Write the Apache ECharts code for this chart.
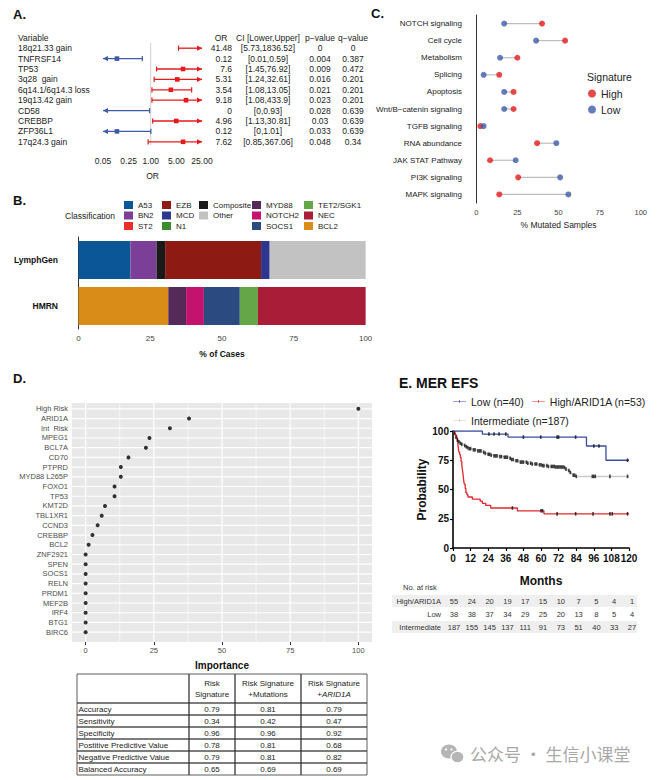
<!DOCTYPE html>
<html><head><meta charset="utf-8">
<script src="https://cdn.jsdelivr.net/npm/echarts@6/dist/echarts.min.js"></script>
<style>html,body{margin:0;padding:0;background:#fff;}#c{width:661px;height:780px;}</style>
</head><body><div id="c"></div>
<script>
const FONT = '"Liberation Sans", Arial, Helvetica, sans-serif';

// ---------- Panel A : forest plot ----------
const fVars = ['18q21.33 gain','TNFRSF14','TP53','3q28  gain','6q14.1/6q14.3 loss','19q13.42 gain','CD58','CREBBP','ZFP36L1','17q24.3 gain'];
const fOR  = [41.48,0.12,7.6,5.31,3.54,9.18,0,4.96,0.12,7.62];
const fLow = [5.73,0.01,1.45,1.24,1.08,1.08,0,1.13,0,0.85];
const fUp  = [1836.52,0.59,76.92,32.61,13.05,433.9,0.93,30.81,1.01,367.06];
const fP   = ['0','0.004','0.009','0.016','0.021','0.023','0.028','0.03','0.033','0.048'];
const fQ   = ['0','0.387','0.472','0.201','0.201','0.201','0.639','0.639','0.639','0.34'];
const fTicks = [0.05,0.25,1,5,25];

// ---------- Panel B : classification bars ----------
const bCats = ['HMRN','LymphGen'];
const lgClasses = ['A53','BN2','Composite','EZB','MCD','Other'];
const lgValues  = [18.1,9.1,3.0,33.4,3.0,33.4];
const hmClasses = ['BCL2','MYD88','NOTCH2','SOCS1','TET2/SGK1','NEC'];
const hmValues  = [31.3,6.2,6.2,12.5,6.3,37.5];
const emptyClasses = ['ST2','N1'];
const bColors = {A53:'#0B5697',BN2:'#7B3F97',ST2:'#E8302A',EZB:'#8D1B14',MCD:'#2E3690',N1:'#3C8A2E',
  Composite:'#1A1A1A',Other:'#C2C2C2',MYD88:'#552A58',NOTCH2:'#C3136F',SOCS1:'#2B4B80',
  'TET2/SGK1':'#64A648',NEC:'#A91D39',BCL2:'#D98C18'};
const bLegendCols = [['A53','BN2','ST2'],['EZB','MCD','N1'],['Composite','Other'],['MYD88','NOTCH2','SOCS1'],['TET2/SGK1','NEC','BCL2']];
const pctTicks = [0,25,50,75,100];

// ---------- Panel C : mutated pathways ----------
const cCats = ['NOTCH signaling','Cell cycle','Metabolism','Splicing','Apoptosis','Wnt/B\u2212catenin signaling','TGFB signaling','RNA abundance','JAK STAT Pathway','PI3K signaling','MAPK signaling'];
const cHigh = [40,54,25,14,22.7,22.7,2.5,37,8.4,25.5,14];
const cLow  = [17,36.4,14.5,4.5,17,17,4.5,48.7,24,51,56];

// ---------- Panel D : importance ----------
const dCats = ['High Risk','ARID1A','Int  Risk','MPEG1','BCL7A','CD70','PTPRD','MYD88 L265P','FOXO1','TP53','KMT2D','TBL1XR1','CCND3','CREBBP','BCL2','ZNF2921','SPEN','SOCS1','RELN','PRDM1','MEF2B','IRF4','BTG1','BIRC6'];
const dImp  = [100,37.9,30.9,23.4,22.1,15.7,12.9,12.9,10.6,10.6,7.1,5.9,4.4,2.5,1.1,0,0,0,0,0,0,0,0,0];
const dMinor = [12.5,37.5,62.5,87.5];

// ---------- Table ----------
const tHead = ['', 'Risk\nSignature', 'Risk Signature\n+Mutations', null];
const tRows = ['Accuracy','Sensitivity','Specificity','Postitive Predictive Value','Negative Predictive Value','Balanced Accuracy'];
const tRisk = [0.79,0.34,0.96,0.78,0.79,0.65];
const tMut  = [0.81,0.42,0.96,0.81,0.81,0.69];
const tArid = [0.79,0.47,0.92,0.68,0.82,0.69];

// ---------- Panel E : KM ----------
const kmLow = [[0,100],[20,97.4],[37.5,94.8],[91,87.2],[104.3,75.0],[120,75.0]];
const kmHigh = [[0,100],[0.7,98.2],[1.5,96.4],[2.5,94.5],[3,92.7],[3.3,89.1],[3.6,85.5],[4,82],[4.5,80],[5,77.5],[5.5,74],[6,70.9],[6.4,67.3],[6.8,63.6],[7.1,60],[7.4,56.4],[7.8,54.5],[8.3,50.9],[8.8,47.3],[9.5,45.5],[10.2,43.6],[13.2,41.8],[18.5,40],[20,38.2],[22.3,36.4],[25.7,34.2],[43.9,31.8],[62,29.2],[120,29.2]];
const kmInt = [[0,100],[0.5,99.4],[1,98.3],[1.5,96.8],[2,94.7],[2.5,93],[3,92.2],[4,90.8],[5,89.5],[6,88.6],[7.5,87.6],[8.5,86.6],[9.8,85.8],[11,84.9],[13.2,83.9],[16.6,83],[20,81.8],[22,80.9],[23.4,80.1],[26,79.3],[28,78.7],[31,78.1],[34.8,77.6],[38.2,76.7],[40,75.6],[41.6,74.6],[45,73.4],[50.7,72.5],[54,71.8],[57.5,71.1],[61,70.4],[64.3,69.7],[70,69.2],[75.7,68.8],[77,67.4],[78,66.2],[79.5,64.6],[80.7,63.2],[82,62.2],[83.6,61.2],[120,61.2]];
const censLow = [24.5,28,31.4,36,48,59.8,71,72,83.6,96,99.5,119];
const censHigh = [40.5,60,61,71,83.6,95.5,107,108.6,119];
const censInt = [1,2,3,4,5,6,8,9,10,11,12,14,15,17,18,19,21,22,24,25,26,28,29,30,32,33,35,36,37,39,40,41,43,44,46,47,48,50,51,53,54,56,57,59,60,61,62,64,65,67,68,69,70,71,72,73,74,75,76,77,79,80,82,83,84,95,96,97,107,119];
const rtGroups = ['High/ARID1A','Low','Intermediate'];
const rtHigh = [55,24,20,19,17,15,10,7,5,4,1];
const rtLow  = [38,38,37,34,29,25,20,13,8,5,4];
const rtInt  = [187,155,145,137,111,91,73,51,40,33,27];

// =================================================================
const RED = '#E41A1C', BLUE = '#3D5BA7';
const fMin = fTicks[0], fMax = fTicks[fTicks.length-1];

function survAt(curve, t){ let v = curve[0][1]; for (const p of curve) if (p[0] <= t) v = p[1]; return v; }

const G = [];
function txt(x,y,text,o){ G.push({type:'text', x:x, y:y, silent:true, z:10,
  style:Object.assign({text:text, fontFamily:FONT, fontSize:8.5, fill:'#222', align:'left', verticalAlign:'middle'}, o||{})}); }
function rect(x,y,w,h,o){ G.push({type:'rect', silent:true, z:5, shape:{x:x,y:y,width:w,height:h}, style:Object.assign({fill:'none'}, o||{})}); }

// panel labels
txt(13,14,'A.',{fontSize:13,fontWeight:'bold',fill:'#111'});
txt(13,200,'B.',{fontSize:13,fontWeight:'bold',fill:'#111'});
txt(371,13,'C.',{fontSize:13,fontWeight:'bold',fill:'#111'});
txt(13,378,'D.',{fontSize:13,fontWeight:'bold',fill:'#111'});
txt(399,383,'E. MER EFS',{fontSize:14,fontWeight:'bold',fill:'#111'});
// forest headers
txt(18,38,'Variable');
txt(221,38,'OR',{align:'center'});
txt(268,38,'CI [Lower,Upper]',{align:'center'});
txt(320,38,'p\u2212value',{align:'center'});
txt(353,38,'q\u2212value',{align:'center'});
// legend titles
txt(65,216,'Classification',{fontSize:8.5});
txt(587,77,'Signature',{fontSize:10.5});

// table D
const tx = [77,189,235,301,367];
const tTop = 674, tHeadH = 29, tRowH = 12;
for (let c=0;c<4;c++){
  rect(tx[c], tTop, tx[c+1]-tx[c], tHeadH, {stroke:'#333', lineWidth:0.8});
  const cx = (tx[c]+tx[c+1])/2;
  if (c===3){
    G.push({type:'text', x:cx, y:tTop+tHeadH/2, silent:true, z:10, style:{text:'{n|Risk Signature}\n{n|+}{i|ARID1A}', align:'center', verticalAlign:'middle', fontFamily:FONT, fontSize:8, fill:'#222', lineHeight:11,
      rich:{n:{fontFamily:FONT,fontSize:8,fill:'#222',lineHeight:11}, i:{fontFamily:FONT,fontSize:8,fill:'#222',fontStyle:'italic',lineHeight:11}}}});
  } else if (tHead[c]) {
    txt(cx, tTop+tHeadH/2, tHead[c], {align:'center', fontSize:8, lineHeight:11});
  }
}
const tCols = [tRisk, tMut, tArid];
for (let r=0;r<tRows.length;r++){
  const y0 = tTop + tHeadH + r*tRowH;
  for (let c=0;c<4;c++) rect(tx[c], y0, tx[c+1]-tx[c], tRowH, {stroke:'#333', lineWidth:0.8});
  txt(tx[0]+1.5, y0+tRowH/2, tRows[r], {fontSize:8});
  for (let c=0;c<3;c++) txt((tx[c+1]+tx[c+2])/2, y0+tRowH/2, tCols[c][r].toFixed(2), {align:'center', fontSize:8});
}

// risk table E
txt(403,587,'No. at risk',{fontSize:7.5,fill:'#333'});
const rtY = [601,614,627];
const rtVals = [rtHigh, rtLow, rtInt];
rect(392, rtY[0]-6, 245, 12, {fill:'#EFEFEF'});
rect(392, rtY[2]-6, 245, 12, {fill:'#EFEFEF'});
for (let g=0; g<3; g++){
  txt(441, rtY[g], rtGroups[g], {align:'right', fontSize:7.5, fill:'#333'});
  for (let k=0;k<rtVals[g].length;k++) txt(454 + k*17.8, rtY[g], String(rtVals[g][k]), {align:'center', fontSize:7.5, fill:'#333'});
}

// watermark
G.push({type:'ellipse', silent:true, shape:{cx:449,cy:751.5,rx:8,ry:7}, style:{fill:'#B5B5B5'}});
G.push({type:'ellipse', silent:true, shape:{cx:457.5,cy:757,rx:6.5,ry:5.8}, style:{fill:'#B5B5B5', stroke:'#fff', lineWidth:1.2}});
G.push({type:'circle', silent:true, shape:{cx:446,cy:749.5,r:1.1}, style:{fill:'#fff'}});
G.push({type:'circle', silent:true, shape:{cx:451.5,cy:749.5,r:1.1}, style:{fill:'#fff'}});
txt(470,753,'公众号 · 生信小课堂',{fontSize:17, fill:'#A8A8A8', fontFamily:'"Noto Sans CJK SC", sans-serif'});

// ---------- series ----------
const series = [];

// forest
series.push({
  type:'custom', name:'forest', xAxisIndex:0, yAxisIndex:0, silent:true, clip:false,
  data: fVars.map((v,i)=>[1,i]),
  renderItem: function(params, api){
    const i = params.dataIndex;
    const lo = fLow[i], up = fUp[i], or = fOR[i];
    const col = or >= 1 ? RED : BLUE;
    const y = api.coord([1,i])[1];
    const xa = api.coord([Math.max(lo,fMin), i])[0];
    const xb = api.coord([Math.min(up,fMax), i])[0];
    const ch = [];
    if (i===0){
      const cs = params.coordSys; const xr = api.coord([1,0])[0];
      ch.push({type:'line', shape:{x1:xr,y1:cs.y,x2:xr,y2:cs.y+cs.height-2}, style:{stroke:'#CFCFCF', lineWidth:1}});
    }
    ch.push({type:'line', shape:{x1:xa,y1:y,x2:xb,y2:y}, style:{stroke:col, lineWidth:1.3}});
    function arrow(x,d){ return {type:'polygon', shape:{points:[[x,y],[x-5*d,y-2.6],[x-5*d,y+2.6]]}, style:{fill:col}}; }
    function cap(x){ return {type:'line', shape:{x1:x,y1:y-2.6,x2:x,y2:y+2.6}, style:{stroke:col, lineWidth:1.2}}; }
    ch.push(lo < fMin ? arrow(xa,-1) : cap(xa));
    ch.push(up > fMax ? arrow(xb,1) : cap(xb));
    if (or >= fMin && or <= fMax){
      const xo = api.coord([or,i])[0];
      ch.push({type:'rect', shape:{x:xo-2.3,y:y-2.3,width:4.6,height:4.6}, style:{fill:col}});
    }
    return {type:'group', children:ch};
  }
});
series.push({
  type:'custom', name:'forestText', xAxisIndex:0, yAxisIndex:0, silent:true, clip:false,
  data: fVars.map((v,i)=>[1,i]),
  renderItem: function(params, api){
    const i = params.dataIndex;
    const y = api.coord([1,i])[1];
    const st = (t,x,al)=>({type:'text', x:x, y:y, style:{text:t, fontFamily:FONT, fontSize:8.5, fill:'#222', align:al, verticalAlign:'middle'}});
    return {type:'group', children:[
      st(String(fOR[i]),232,'right'),
      st('['+fLow[i]+','+fUp[i]+']',268,'center'),
      st(fP[i],320,'center'),
      st(fQ[i],353,'center')
    ]};
  }
});

// B bars
lgClasses.forEach((c,k)=>series.push({type:'bar', name:c, stack:'b', xAxisIndex:1, yAxisIndex:1, barWidth:38, silent:true,
  itemStyle:{color:bColors[c]}, data:['-', lgValues[k]]}));
hmClasses.forEach((c,k)=>series.push({type:'bar', name:c, stack:'b', xAxisIndex:1, yAxisIndex:1, barWidth:38, silent:true,
  itemStyle:{color:bColors[c]}, data:[hmValues[k], '-']}));
emptyClasses.forEach(c=>series.push({type:'bar', name:c, stack:'b', xAxisIndex:1, yAxisIndex:1, barWidth:38, silent:true,
  itemStyle:{color:bColors[c]}, data:['-','-']}));

// C dumbbell
series.push({
  type:'custom', name:'seg', xAxisIndex:2, yAxisIndex:2, silent:true,
  data: cCats.map((c,i)=>[cHigh[i], cLow[i], i]),
  encode:{x:[0,1], y:2},
  renderItem: function(params, api){
    const a = api.coord([api.value(0), api.value(2)]);
    const b = api.coord([api.value(1), api.value(2)]);
    return {type:'line', shape:{x1:a[0],y1:a[1],x2:b[0],y2:b[1]}, style:{stroke:'#BDBDBD', lineWidth:1.2}};
  }
});
series.push({type:'scatter', name:'High', xAxisIndex:2, yAxisIndex:2, symbolSize:6, silent:true, z:3,
  itemStyle:{color:RED}, data:cHigh.map((v,i)=>[v,i])});
series.push({type:'scatter', name:'Low', xAxisIndex:2, yAxisIndex:2, symbolSize:6, silent:true, z:3,
  itemStyle:{color:BLUE}, data:cLow.map((v,i)=>[v,i])});

// D background panel with ggplot-style gridlines
series.push({
  type:'custom', name:'dPanel', xAxisIndex:3, yAxisIndex:3, silent:true, z:1, clip:false,
  data:[[0,0]],
  renderItem: function(params, api){
    const cs = params.coordSys;
    const y0 = cs.y - 1, y1 = cs.y + cs.height + 5;
    const ch = [{type:'rect', shape:{x:cs.x,y:y0,width:cs.width,height:y1-y0}, style:{fill:'#E8E8E8'}}];
    dMinor.forEach(v=>{ const x = api.coord([v,0])[0];
      ch.push({type:'line', shape:{x1:x,y1:y0,x2:x,y2:y1}, style:{stroke:'#fff', lineWidth:0.6}}); });
    pctTicks.forEach(v=>{ const x = api.coord([v,0])[0];
      ch.push({type:'line', shape:{x1:x,y1:y0,x2:x,y2:y1}, style:{stroke:'#fff', lineWidth:1.2}}); });
    dCats.forEach((c,i)=>{ const y = api.coord([0,i])[1];
      ch.push({type:'line', shape:{x1:cs.x,y1:y,x2:cs.x+cs.width,y2:y}, style:{stroke:'#fff', lineWidth:1.2}}); });
    return {type:'group', children:ch};
  }
});
series.push({type:'scatter', name:'imp', xAxisIndex:3, yAxisIndex:3, symbolSize:4, silent:true, z:3,
  itemStyle:{color:'#000'}, data:dImp.map((v,i)=>[v,i])});

// E KM
const kmDefs = [
  {name:'Intermediate (n=187)', data:kmInt, color:'#C9C9C9', cens:censInt, w:1.5},
  {name:'High/ARID1A (n=53)', data:kmHigh, color:'#E3262B', cens:censHigh, w:1.3},
  {name:'Low (n=40)', data:kmLow, color:'#3A4C9E', cens:censLow, w:1.3}
];
kmDefs.forEach(d=>{
  series.push({type:'line', name:d.name, xAxisIndex:4, yAxisIndex:4, step:'end', symbol:'none', silent:true,
    lineStyle:{color:d.color, width:d.w}, itemStyle:{color:d.color}, data:d.data});
  series.push({type:'scatter', name:d.name+' cens', xAxisIndex:4, yAxisIndex:4, symbol:'rect', symbolSize:[1.6,3.6], silent:true, z:4,
    itemStyle:{color:'#111'}, data:d.cens.map(t=>[t, survAt(d.data,t)])});
});

const kmIcon = 'path://M0,4.4h26v1.3h-26z M12.3,2h1.4v6h-1.4z';
const legends = bLegendCols.map((col,k)=>({
  data:col, orient:'vertical', left:[124,162,199,252,304][k], top:201, padding:0,
  itemWidth:9, itemHeight:8, itemGap:2.5, icon:'rect', selectedMode:false,
  textStyle:{fontFamily:FONT, fontSize:8, color:'#222', lineHeight:8}
}));
legends.push({data:['High','Low'], orient:'vertical', left:588, top:88, padding:0, itemWidth:8, itemHeight:8, itemGap:5,
  icon:'circle', selectedMode:false, textStyle:{fontFamily:FONT, fontSize:10.5, color:'#222', lineHeight:8}});
legends.push({data:[{name:'Low (n=40)',icon:kmIcon},{name:'High/ARID1A (n=53)',icon:kmIcon},{name:'Intermediate (n=187)',icon:kmIcon}],
  orient:'horizontal', left:453, top:396, width:205, padding:0, itemWidth:13, itemHeight:6, itemGap:8, selectedMode:false,
  textStyle:{fontFamily:FONT, fontSize:10.5, color:'#222', lineHeight:9}});

const ax = (c)=>({lineStyle:{color:c||'#333', width:1}});
const option = {
  animation:false,
  textStyle:{fontFamily:FONT},
  grid:[
    {left:103, top:43, width:99, height:104},
    {left:64, top:237, width:316, height:92},
    {left:468, top:15, width:181, height:188},
    {left:72, top:404, width:300, height:233},
    {left:453, top:431, width:176, height:117}
  ].map(g=>Object.assign({containLabel:false, outerBoundsMode:'none', show:false}, g)),
  xAxis:[
    {gridIndex:0, type:'log', logBase:10, min:fMin, max:fMax, axisLine:ax('#444'),
      axisTick:{length:5, customValues:fTicks, lineStyle:{color:'#444'}},
      axisLabel:{customValues:fTicks, formatter:v=>Number(v).toFixed(2), fontSize:8.5, color:'#222', margin:9},
      splitLine:{show:false}, minorTick:{show:false},
      name:'OR', nameLocation:'middle', nameGap:24, nameTextStyle:{fontSize:8.5, color:'#222'}},
    {gridIndex:1, type:'value', min:-5, max:105, axisLine:ax('#333'),
      axisTick:{length:3, customValues:pctTicks, lineStyle:{color:'#333'}},
      axisLabel:{customValues:pctTicks, fontSize:8, color:'#444', margin:5}, splitLine:{show:false},
      name:'% of Cases', nameLocation:'middle', nameGap:20, nameTextStyle:{fontSize:8.5, fontWeight:'bold', color:'#111'}},
    {gridIndex:2, type:'value', min:-5, max:105, axisLine:ax('#333'),
      axisTick:{length:3, customValues:pctTicks, lineStyle:{color:'#333'}},
      axisLabel:{customValues:pctTicks, fontSize:7.5, color:'#444', margin:5}, splitLine:{show:false},
      name:'% Mutated Samples', nameLocation:'middle', nameGap:17, nameTextStyle:{fontSize:8.5, color:'#222'}},
    {gridIndex:3, type:'value', min:-5, max:105, offset:5, axisLine:{show:false},
      axisTick:{show:true, length:3, customValues:pctTicks, lineStyle:{color:'#333'}},
      axisLabel:{customValues:pctTicks, fontSize:7.5, color:'#4D4D4D', margin:4},
      splitLine:{show:false},
      name:'Importance', nameLocation:'middle', nameGap:18, nameTextStyle:{fontSize:10, fontWeight:'bold', color:'#111'}},
    {gridIndex:4, type:'value', min:0, max:120, interval:12, axisLine:{lineStyle:{color:'#000', width:1.6}},
      axisTick:{length:3, lineStyle:{color:'#000', width:1.2}},
      axisLabel:{fontSize:10, fontWeight:'bold', color:'#111', margin:5}, splitLine:{show:false},
      name:'Months', nameLocation:'middle', nameGap:27, nameTextStyle:{fontSize:12, fontWeight:'bold', color:'#111'}}
  ],
  yAxis:[
    {gridIndex:0, type:'category', data:fVars, inverse:true, axisLine:{show:false}, axisTick:{show:false},
      axisLabel:{interval:0, align:'left', margin:85, fontSize:8.5, color:'#222'}, splitLine:{show:false}},
    {gridIndex:1, type:'category', data:bCats, axisLine:ax('#333'),
      axisTick:{length:3, alignWithLabel:true, lineStyle:{color:'#333'}},
      axisLabel:{interval:0, fontSize:8.5, fontWeight:'bold', color:'#111', margin:6}},
    {gridIndex:2, type:'category', data:cCats, inverse:true, axisLine:ax('#333'),
      axisTick:{length:3, alignWithLabel:true, interval:0, lineStyle:{color:'#333'}},
      axisLabel:{interval:0, fontSize:8, color:'#222', margin:6}},
    {gridIndex:3, type:'category', data:dCats, inverse:true, axisLine:{show:false},
      axisTick:{show:true, length:3, alignWithLabel:true, interval:0, lineStyle:{color:'#333'}},
      axisLabel:{interval:0, fontSize:7.5, color:'#4D4D4D', margin:4},
      splitLine:{show:false}},
    {gridIndex:4, type:'value', min:0, max:100, interval:25, axisLine:{lineStyle:{color:'#000', width:1.6}},
      axisTick:{length:3, lineStyle:{color:'#000', width:1.2}},
      axisLabel:{fontSize:10, fontWeight:'bold', color:'#111', margin:4}, splitLine:{show:false},
      name:'Probability', nameLocation:'middle', nameGap:24, nameRotate:90, nameTextStyle:{fontSize:12, fontWeight:'bold', color:'#111'}}
  ],
  legend:legends,
  series:series,
  graphic:G
};
const chart = echarts.init(document.getElementById('c'), null, {renderer:'svg'});
chart.setOption(option);
</script></body></html>
